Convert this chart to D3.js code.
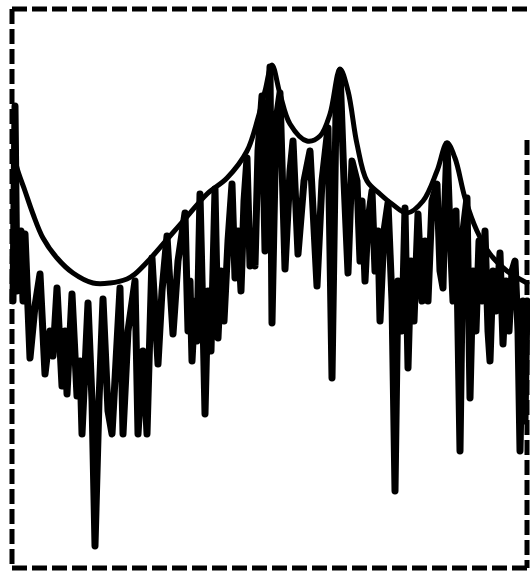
<!DOCTYPE html>
<html>
<head>
<meta charset="utf-8">
<script src="https://cdn.jsdelivr.net/npm/d3@7"></script>
<style>
  body { margin: 0; background: #fff; }
</style>
</head>
<body>
<div id="chart"></div>
<script>
var svgwidth = 530;
var svgheight = 577;

// frame in page pixels
var frame = { left: 12, right: 527, top: 9, bottom: 568 };

// smooth envelope curve (position, amplitude)
var envX = [2, 5, 13, 21, 31, 45, 61, 81, 98, 115, 123, 138, 158, 173, 195, 215, 235, 246, 253, 260,
            268, 278, 295, 308, 318, 328, 336, 345, 355, 368, 380, 395, 411, 425, 435, 443, 453, 465, 478, 495, 515];
var envY = [417, 400, 377, 354, 330, 310, 295, 285, 285, 289, 294, 309, 332, 349, 374, 390, 417, 450, 477, 503,
            474, 444, 427, 432, 454, 499, 477, 424, 387, 374, 364, 355, 367, 397, 425, 410, 370, 337, 314, 297, 285];

// oscillating signal, peaks and troughs in order
var sigX = [1, 3, 5, 9, 11, 13, 18, 23, 28, 33, 38, 41, 45, 50, 53, 55, 60, 65, 68, 70,
            76, 80, 83, 87, 91, 96, 100, 104, 108, 111, 116, 123, 126, 131, 135, 140, 146, 150, 155, 161,
            166, 173,
            176, 178, 180, 183, 185, 188, 191, 193, 196, 199, 203, 206, 209, 212, 216, 220, 223, 226, 229, 232,
            235, 238, 241, 243, 246, 250,
            253, 258, 260, 264, 268, 273, 278, 281, 286, 292, 298, 305, 310, 316, 320, 324, 328, 332, 336, 340,
            345, 348, 350, 353, 356, 360, 363, 366, 368, 372,
            376, 380, 383, 386, 390, 393, 396, 399, 402, 406, 410, 413, 416, 420, 425, 428, 431, 433, 435, 438,
            441, 444, 448, 451, 455, 458, 461, 464, 467, 470, 473, 476, 478, 481, 484, 488, 491, 494, 497, 500,
            503, 506, 508, 511, 513, 515];
var sigY = [267, 462, 277, 337, 267, 334, 210, 262, 294, 194, 237, 212, 280, 182, 237, 174, 274, 172, 207, 134,
            265, 167, 22, 167, 269, 157, 134, 207, 280, 134, 237, 287, 134, 217, 134, 310, 204, 277, 332, 234,
            307, 355,
            237, 287, 207, 267, 227, 374, 247, 154, 277, 217, 379, 230, 297, 247, 327, 384, 290, 337, 277, 367,
            410, 302, 337, 302, 417, 472,
            317, 501, 245, 447, 475, 299, 397, 427, 314, 387, 417, 282, 387, 440, 190, 457, 497, 387, 295, 407,
            387, 307, 367, 287, 347, 377, 297, 337, 247, 337,
            365, 267, 77, 287, 237, 360, 200, 307, 247, 354, 267, 327, 267, 367, 384, 297, 280, 367, 424, 337,
            267, 357, 117, 337, 370, 170, 297, 237, 327, 267, 337, 237, 207, 297, 257, 315, 224, 287, 237, 297,
            307, 237, 117, 267, 147, 267];

var x = d3.scaleLinear().domain([0, 515]).range([frame.left, frame.right]);
var y = d3.scaleLinear().domain([0, 559]).range([frame.bottom, frame.top]);

var svg = d3.select("#chart").append("svg").attr("width", svgwidth).attr("height", svgheight);

// dashed frame (right side only shows from part way down in the scan)
var dash = "15,5";
var edges = [
    [frame.left, frame.top, frame.right, frame.top],
    [frame.left, frame.top, frame.left, frame.bottom],
    [frame.left, frame.bottom, frame.right, frame.bottom],
    [frame.right, 140, frame.right, frame.bottom]
];
svg.selectAll("line.edge")
    .data(edges)
    .enter()
    .append("line")
    .attr("class", "edge")
    .attr("x1", d => d[0]).attr("y1", d => d[1])
    .attr("x2", d => d[2]).attr("y2", d => d[3])
    .attr("stroke", "#000")
    .attr("stroke-width", 5)
    .attr("stroke-dasharray", dash);

var envData = envX.map((v, i) => [v, envY[i]]);
var sigData = sigX.map((v, i) => [v, sigY[i]]);

var envLine = d3.line()
    .x(d => x(d[0]))
    .y(d => y(d[1]))
    .curve(d3.curveCatmullRom.alpha(0.5));

var sigLine = d3.line()
    .x(d => x(d[0]))
    .y(d => y(d[1]));

svg.append("path")
    .attr("d", sigLine(sigData))
    .attr("fill", "none")
    .attr("stroke", "#000")
    .attr("stroke-width", 7)
    .attr("stroke-linejoin", "round")
    .attr("stroke-linecap", "round");

svg.append("path")
    .attr("d", envLine(envData))
    .attr("fill", "none")
    .attr("stroke", "#000")
    .attr("stroke-width", 5)
    .attr("stroke-linecap", "round");
</script>
</body>
</html>
